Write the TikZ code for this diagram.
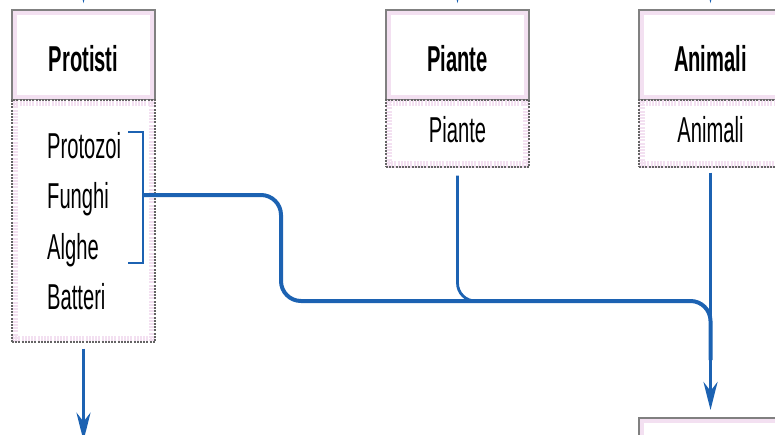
\documentclass[tikz,border=0pt]{standalone}
\usepackage{fontspec}
\setmainfont{Liberation Sans}[FakeStretch=0.56]
\usetikzlibrary{arrows.meta}
\definecolor{lineblue}{RGB}{28,98,178}
\definecolor{boxpink}{RGB}{243,224,241}
\definecolor{boxgray}{RGB}{128,128,128}
\definecolor{dashgray}{RGB}{100,100,100}
\begin{document}
\begin{tikzpicture}[x=1pt,y=-1pt,
  pinkframe/.style={path picture={\draw[boxpink,line width=#1] (path picture bounding box.south west) rectangle (path picture bounding box.north east);}},
  hdr/.style={draw=boxgray, line width=1.6pt, fill=white, minimum width=143pt, minimum height=90pt,
    inner sep=0pt, text height=33pt, text depth=0pt, font=\fontsize{36}{42}\selectfont\bfseries, pinkframe=10pt},
  bdy/.style={draw=dashgray, dash pattern=on 2pt off 1.2pt, line width=1.4pt, fill=white, minimum width=143pt,
    inner sep=0pt, text height=24pt, text depth=6pt, font=\fontsize{36}{42}\selectfont, pinkframe=12pt},
  item/.style={inner sep=0pt, anchor=base west, font=\fontsize{36}{42}\selectfont},
  conn/.style={draw=lineblue, line width=#1},
  arr/.style={draw=lineblue, line width=3.6pt, -{Stealth[length=28pt,width=14pt,inset=9pt]}}
]
\useasboundingbox (0,0) rectangle (775,434);
\clip (0,0) rectangle (775,434);

% boxes
\node[hdr] (protH) at (83.5,55) {Protisti};
\node[bdy, minimum height=242pt] (protB) at (83.5,221) {};
\node[hdr] (pianH) at (457.5,55) {Piante};
\node[bdy, minimum height=67pt] (pianB) at (457.5,133.5) {Piante};
\node[hdr] (animH) at (710.5,55) {Animali};
\node[bdy, minimum height=67pt] (animB) at (710.5,133.5) {Animali};
\node[hdr, anchor=north, text height=0pt] (next) at (710.5,417) {};

% items
\node[item] (i1) at (47,158) {Protozoi};
\node[item] (i2) at (47,208.5) {Funghi};
\node[item] (i3) at (47,259) {Alghe};
\node[item] (i4) at (47,309.5) {Batteri};

% incoming stubs from above
\coordinate (s1) at (83.5,-40);
\coordinate (s2) at (457.5,-40);
\coordinate (s3) at (710.5,-40);
\draw[arr] (s1) -- ([yshift=6pt]protH.north);
\draw[arr] (s2) -- ([yshift=6pt]pianH.north);
\draw[arr] (s3) -- ([yshift=6pt]animH.north);

% bracket
\coordinate (brk) at (143,195);
\draw[conn=2.2pt] (128,132) -| (143,263) -- (128,263);

% main connector
\draw[conn=4pt, rounded corners=20pt] (brk) -- (281,195) -- (281,301) -- (710.5,301) -- (710.5,360);
\draw[conn=2.8pt, rounded corners=18pt] ([yshift=-8pt]pianB.south) -- (457.5,301) -- (490,301);
\draw[arr] ([yshift=-5pt]animB.south) -- ([yshift=7pt]next.north);
\draw[arr] ([yshift=-6pt]protB.south) -- ++(0,92);
\end{tikzpicture}
\end{document}
